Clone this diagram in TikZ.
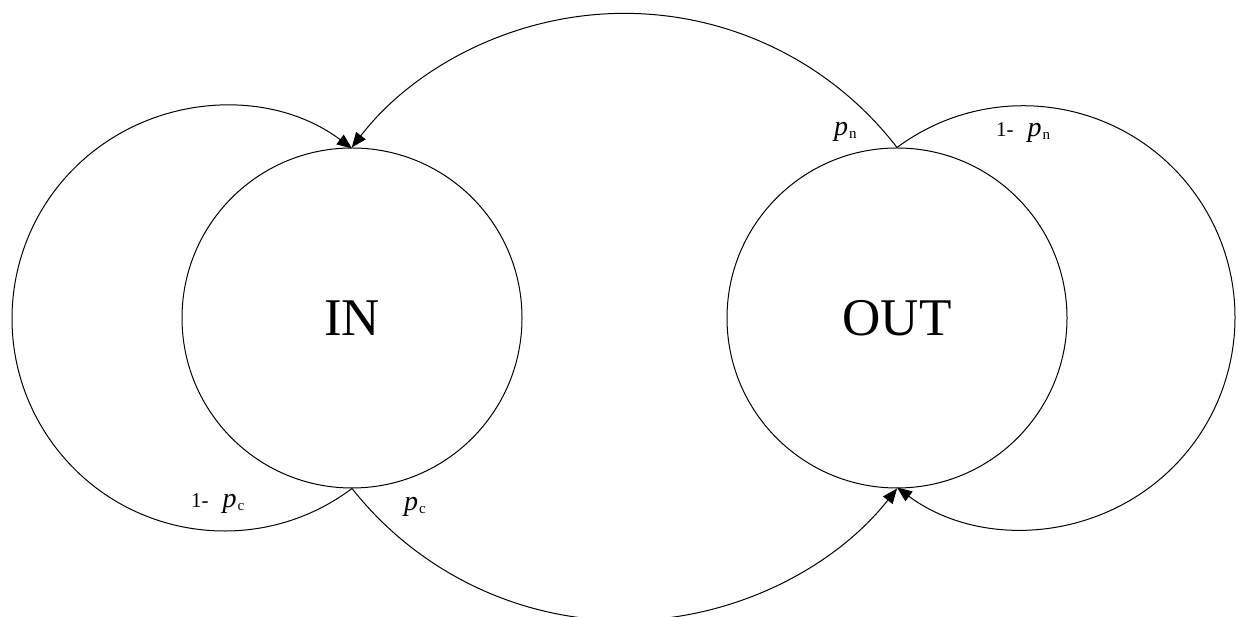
\documentclass[tikz,border=0pt]{standalone}
\usepackage{fontspec}
\setmainfont{Liberation Serif}
\usetikzlibrary{arrows.meta}
\tikzset{
  state/.style={circle, draw, line width=1pt, minimum size=340pt, inner sep=0pt,
    font=\fontsize{53}{53}\selectfont},
  edge/.style={line width=1pt, -{Triangle[length=15pt,width=12pt]}},
  lbl/.style={anchor=base west, inner sep=0pt, font=\fontsize{21}{21}\selectfont}
}
\newcommand{\pvar}[1]{{\fontsize{28}{28}\selectfont\itshape p}\hspace{1pt}{\fontsize{15}{15}\selectfont\raisebox{-3pt}{#1}}}
\begin{document}
\begin{tikzpicture}[x=1pt,y=1pt]
\useasboundingbox (0,0) rectangle (1238,617);
\node[state] (IN) at (352,299) {IN};
\node[state] (OUT) at (897,299) {OUT};
% IN self loop
\draw[edge] (IN.south) arc[start angle=-53.13, end angle=-306.87, radius=212.5];
% OUT self loop
\draw[edge] (OUT.north) arc[start angle=126.6, end angle=-126.6, radius=211.75];
% OUT -> IN (top)
\draw[edge] (OUT.north) arc[start angle=37.6, end angle=142.4, radius=344.1];
% IN -> OUT (bottom)
\draw[edge] (IN.south) arc[start angle=218.3, end angle=321.7, radius=347.3];
% labels
\node[lbl] (l1) at (191,109) {1-\hspace{14pt}\pvar{c}};
\node[lbl] (l2) at (404,106) {\pvar{c}};
\node[lbl] (l3) at (834,481) {\pvar{n}};
\node[lbl] (l4) at (996,480) {1-\hspace{14pt}\pvar{n}};
\end{tikzpicture}
\end{document}
